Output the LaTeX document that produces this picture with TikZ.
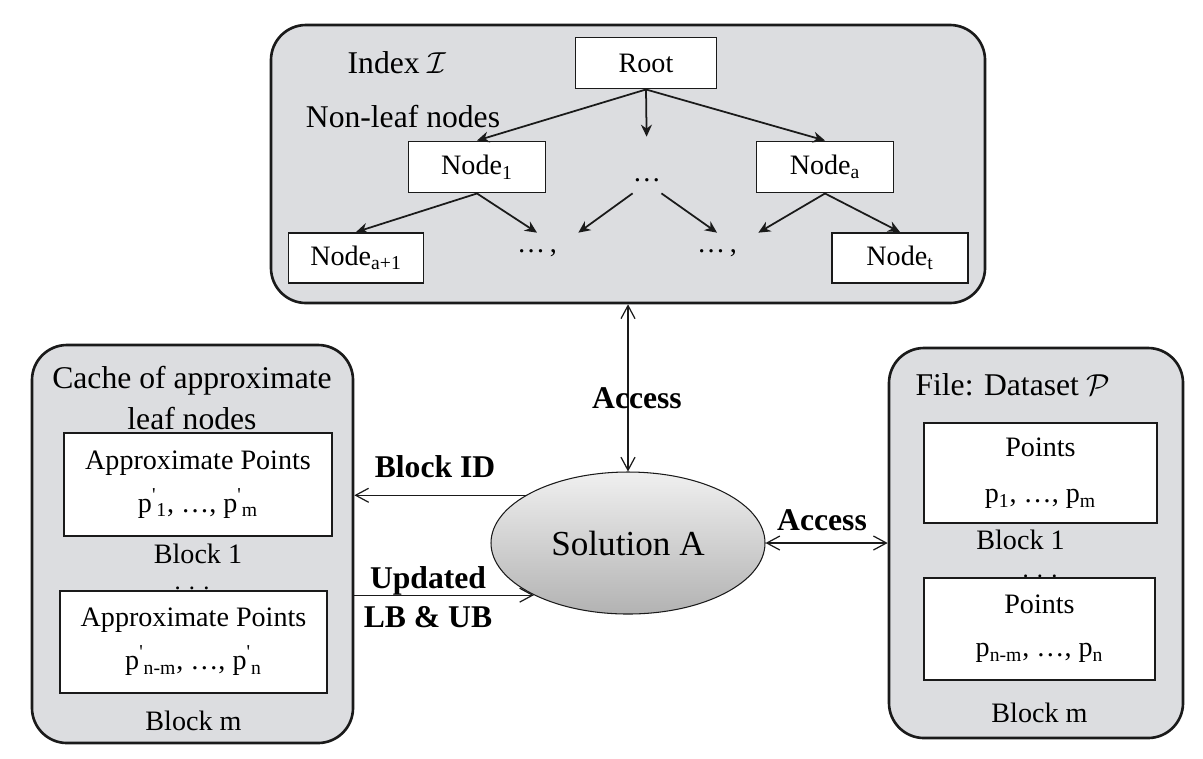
\documentclass[tikz,border=0pt]{standalone}
\usepackage{fontspec}
\setmainfont{Liberation Serif}
\usetikzlibrary{arrows.meta,positioning,shapes.geometric}
\definecolor{Panel}{HTML}{DCDDE0}
\definecolor{Edge}{HTML}{1A1A1A}

\begin{document}
\begin{tikzpicture}[x=0.2mm, y=-0.2mm,
  panel/.style={rounded corners=7mm, draw=Edge, fill=Panel, line width=1.5pt},
  box/.style={draw=Edge, fill=white, line width=1.1pt, align=center, inner sep=0pt, font=\fontsize{16}{24.5}\selectfont},
  tnode/.style={box, minimum width=27.4mm, minimum height=10.2mm},
  lbl/.style={inner sep=0pt, align=center, font=\fontsize{18}{23}\selectfont},
  tag/.style={lbl, font=\fontsize{18}{22.5}\selectfont\bfseries},
  small/.style={inner sep=0pt, font=\fontsize{16}{19}\selectfont},
  dotsep/.style={inner sep=0pt, font=\fontsize{14}{16}\selectfont, text height=1mm, text depth=0pt},
  tree/.style={-{Stealth[length=2.4mm,width=2.2mm]}, line width=1pt, draw=Edge},
  arr/.style={-{Straight Barb[length=2.6mm,width=2.8mm]}, line width=0.7pt, draw=Edge},
  dbl/.style={{Straight Barb[length=2.6mm,width=2.8mm]}-{Straight Barb[length=2.6mm,width=2.8mm]}, line width=0.7pt, draw=Edge} ]

\useasboundingbox (0,0) rectangle (1203,758);

\node[panel, minimum width=142.8mm, minimum height=55.6mm] (index) at (628,164) {};
\node[lbl] (ititle) at (397,63) {Index $\mathcal{I}$};
\node[lbl] (nonleaf) at (403,117) {Non-leaf nodes};

\node[tnode, minimum width=28.2mm] (root) at (646,63) {Root};
\node[tnode] (n1) at (477,167) {Node\textsubscript{1}};
\node[tnode] (na) at (825,167) {Node\textsubscript{a}};
\node[tnode, minimum width=27mm, minimum height=10mm] (na1) at (356,258) {Node\textsubscript{a+1}};
\node[tnode, minimum width=27.2mm, minimum height=10mm] (nt) at (900,258) {Node\textsubscript{t}};
\node[small, minimum width=2.8mm, minimum height=5.2mm] (midd) at (647,180) {\dots};
\node[small, minimum width=16.4mm, minimum height=8mm] (d1) at (537,253) {\dots\,,};
\node[small, minimum width=16.4mm, minimum height=8mm] (d2) at (717,253) {\dots\,,};

\draw[tree] (root.south) -- (n1.north);
\draw[tree, shorten >=6mm] (root.south) -- (midd.north);
\draw[tree] (root.south) -- (na.north);
\draw[tree] (n1.south) -- (na1.north);
\draw[tree] (n1.south) -- (d1.north);
\draw[tree] (midd.south west) -- (d1.north east);
\draw[tree] (midd.south east) -- (d2.north);
\draw[tree] (na.south) -- (d2.north east);
\draw[tree] (na.south) -- (nt.north);

\node[panel, minimum width=64.2mm, minimum height=79.6mm] (cache) at (192.5,544) {};
\node[lbl] (ctitle) at (192,398) {Cache of approximate\\leaf nodes};
\node[box, minimum width=53.6mm, minimum height=20.6mm] (c1) at (198,484.5) {Approximate Points\\p\textsuperscript{\textquotesingle}\textsubscript{1}, \dots, p\textsuperscript{\textquotesingle}\textsubscript{m}};
\node[small, below=1.3mm of c1] (cb1) {Block 1};
\node[dotsep] (cdots) at (192,587) {.\,\,.\,\,.};
\node[box, minimum width=53.4mm, minimum height=20.4mm] (c2) at (193.5,642) {Approximate Points\\p\textsuperscript{\textquotesingle}\textsubscript{n-m}, \dots, p\textsuperscript{\textquotesingle}\textsubscript{n}};
\node[small, below=3.4mm of c2] (cbm) {Block m};

\node[panel, minimum width=58.8mm, minimum height=78mm] (file) at (1036,543) {};
\node[lbl] (ftitle) at (1013,385) {File: Dataset $\mathcal{P}$};
\node[box, minimum width=46.6mm, minimum height=20mm, font=\fontsize{16}{26.5}\selectfont] (f1) at (1040.5,473) {Points\\p\textsubscript{1}, \dots, p\textsubscript{m}};
\node[small, below=1.2mm of f1, xshift=-4mm] (fb1) {Block 1};
\node[dotsep] (fdots) at (1040,575) {.\,\,.\,\,.};
\node[box, minimum width=46.2mm, minimum height=20.4mm] (f2) at (1039.5,629) {Points\\p\textsubscript{n-m}, \dots, p\textsubscript{n}};
\node[small, below=4.4mm of f2] (fbm) {Block m};

\node[ellipse, draw=Edge, line width=0.6pt, top color=black!6, bottom color=black!30, minimum width=54.8mm, minimum height=28.4mm, inner sep=0pt, font=\fontsize{20}{24}\selectfont] (sol) at (628,543) {Solution A};

\draw[dbl] (index.south) -- (sol.north);
\node[tag] (acc1) at (637,398) {Access};
\draw[arr] (sol.155) -- (sol.155 -| cache.east);
\node[tag] (bid) at (435,467) {Block ID};
\draw[arr] (sol.209 -| cache.east) -- (sol.209);
\node[tag] (upd) at (428,597) {Updated\\LB \& UB};
\draw[dbl] (sol.east) -- (file.west);
\node[tag] (acc2) at (822,520) {Access};

\end{tikzpicture}
\end{document}
